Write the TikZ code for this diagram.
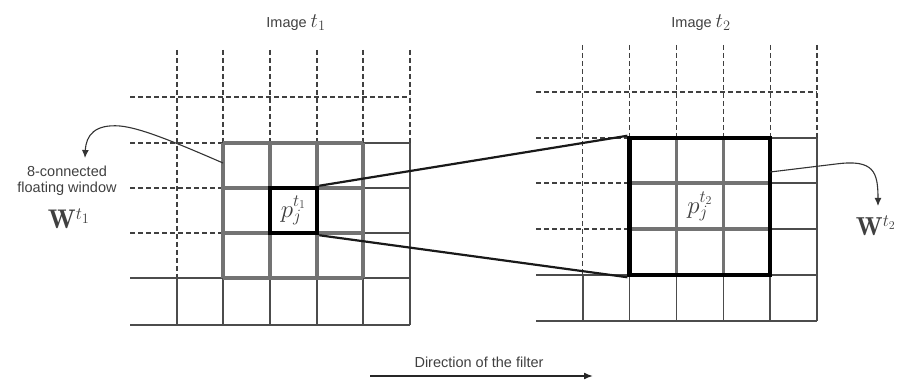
\documentclass[tikz,border=0pt]{standalone}
\usepackage{fontspec}
\setsansfont{Liberation Sans}
\usetikzlibrary{arrows.meta}
\begin{document}
\begin{tikzpicture}[x=1pt,y=-1pt,
  dsh/.style={draw=black!75, line width=1.2pt, dash pattern=on 5pt off 3pt},
  gridln/.style={draw=black!70, line width=1.5pt},
  win/.style={draw=black!55, line width=3.2pt},
  boxblk/.style={draw=black, line width=4.5pt, inner sep=0pt, rectangle,
    font=\fontsize{24}{28}\selectfont, text=black!75},
  funnel/.style={draw=black!90, line width=2.2pt},
  callout/.style={draw=black!80, line width=1.1pt, -{Latex[length=8pt,width=7pt]}},
  lbl/.style={font=\sffamily\fontsize{14.5}{17.5}\selectfont, text=black!75, inner sep=0pt, align=center},
  mth/.style={font=\fontsize{24}{28}\selectfont, text=black!75, inner sep=0pt}]
\useasboundingbox (0,0) rectangle (898,382);

% ---------------- left image ----------------
\draw[dsh] (130,97) -- (410,97);
\foreach \y in {143,188,233} \draw[dsh] (130,\y) -- (223,\y);
\draw[dsh] (177,50) -- (177,278);
\foreach \x in {223,270,317,363,410} \draw[dsh] (\x,50) -- (\x,143);
\foreach \y in {278,325} \draw[gridln] (130,\y) -- (410,\y);
\foreach \y in {143,188,233} \draw[gridln] (223,\y) -- (410,\y);
\draw[gridln] (177,278) -- (177,325);
\foreach \x in {223,270,317,363,410} \draw[gridln] (\x,143) -- (\x,325);
% 8-connected window
\foreach \y in {143,188,233,278} \draw[win] (223,\y) -- (363,\y);
\foreach \x in {223,270,317,363} \draw[win] (\x,143) -- (\x,278);
\node[boxblk, minimum width=47pt, minimum height=45pt] (c1) at (293.5,210.5) {$p_j^{t_1}$};

% ---------------- right image ----------------
\draw[dsh] (536,92) -- (817,92);
\foreach \y in {138,183,229} \draw[dsh] (536,\y) -- (629.7,\y);
\draw[dsh] (582.8,45) -- (582.8,275);
\foreach \x in {629.7,676.5,723.3,770.2,817} \draw[dsh] (\x,45) -- (\x,138);
\foreach \y in {275,321} \draw[gridln] (536,\y) -- (817,\y);
\foreach \y in {138,183,229} \draw[gridln] (629.7,\y) -- (817,\y);
\draw[gridln] (582.8,275) -- (582.8,321);
\foreach \x in {629.7,676.5,723.3,770.2,817} \draw[gridln] (\x,138) -- (\x,321);
\foreach \y in {183,229} \draw[win] (629.7,\y) -- (770.2,\y);
\foreach \x in {676.5,723.3} \draw[win] (\x,138) -- (\x,275);
\node[boxblk, minimum width=140.5pt, minimum height=137pt] (b2) at (699.95,206.5) {$p_j^{t_2}$};

% ---------------- funnel ----------------
\draw[funnel] (c1.north east) -- (b2.north west);
\draw[funnel] (c1.south east) -- (b2.south west);

% ---------------- labels ----------------
\node[lbl] (img1) at (296,23) {Image {\fontsize{20}{24}\selectfont$t_1$}};
\node[lbl] (img2) at (701,23) {Image {\fontsize{20}{24}\selectfont$t_2$}};

\node[lbl] (win1) at (67,181) {8-connected\\[-1pt]floating window};
\node[mth, font=\fontsize{27}{30}\selectfont] (W1) at (69,219) {$\mathbf{W}^{t_1}$};
\node[mth, font=\fontsize{26}{30}\selectfont, anchor=east] (W2) at (896,226) {$\mathbf{W}^{t_2}$};

\coordinate (a1) at (223,163);
\coordinate (t1) at (85,158);
\draw[callout] (a1) .. controls (170,140) and (140,128) .. (120,126)
  .. controls (95,124) and (86,135) .. (t1);

\coordinate (a2) at (770.2,172);
\coordinate (t2) at (878,206);
\draw[callout] (a2) -- (836,164) .. controls (874,159) and (878,172) .. (t2);

\node[lbl] (dir) at (479,362) {Direction of the filter};
\coordinate (d1) at (370,376);
\coordinate (d2) at (593,376);
\draw[draw=black!85, line width=1.5pt, -{Latex[length=9pt,width=7pt]}] (d1) -- (d2);
\end{tikzpicture}
\end{document}
